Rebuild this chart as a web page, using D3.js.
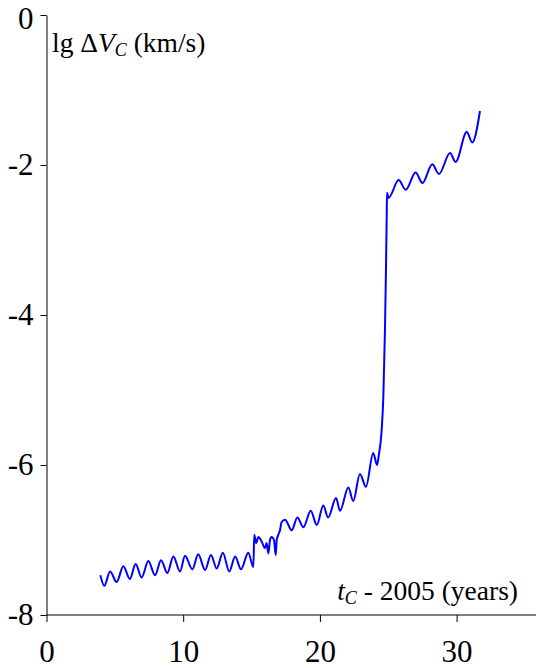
<!DOCTYPE html>
<html>
<head>
<meta charset="utf-8">
<script src="https://cdn.jsdelivr.net/npm/d3@7"></script>
<style>
  html, body { margin: 0; padding: 0; background: #fff; }
  svg { display: block; }
</style>
</head>
<body>
<script>
// Data
const years = [3.94, 4.23, 4.65, 5.13, 5.62, 6.10, 6.52, 6.96, 7.45, 7.94, 8.38, 8.84, 9.28, 9.77,
  10.13, 10.67, 11.10, 11.60, 12.03, 12.45, 12.90, 13.37, 13.80, 14.23, 14.76, 15.13, 15.20, 15.33,
  15.50, 15.74, 15.98, 16.10, 16.23, 16.35, 16.47, 16.64, 16.77, 16.84, 16.96, 17.08, 17.20, 17.45,
  17.94, 18.35, 18.79, 19.33, 19.77, 20.25, 20.60, 21.18, 21.47, 22.08, 22.44, 22.93, 23.37, 23.90,
  24.18, 24.30, 24.52, 24.64, 24.76, 24.84, 24.89, 24.91, 25.02, 25.76, 26.28, 27.00, 27.50, 28.22,
  28.71, 29.52, 29.93, 30.74, 31.15, 31.71];
const lgDV = [-7.47, -7.61, -7.42, -7.56, -7.35, -7.52, -7.32, -7.50, -7.28, -7.47, -7.27, -7.44, -7.22, -7.42,
  -7.21, -7.39, -7.19, -7.40, -7.20, -7.38, -7.17, -7.42, -7.22, -7.39, -7.17, -7.36, -6.93, -7.04,
  -6.96, -7.02, -7.11, -7.04, -7.18, -7.00, -6.96, -7.00, -7.20, -7.00, -6.93, -6.87, -6.76, -6.73,
  -6.87, -6.70, -6.83, -6.61, -6.80, -6.54, -6.70, -6.44, -6.61, -6.30, -6.48, -6.12, -6.29, -5.84,
  -6.00, -5.88, -5.53, -5.09, -4.20, -3.31, -2.64, -2.37, -2.44, -2.20, -2.33, -2.10, -2.24, -1.99,
  -2.12, -1.84, -1.96, -1.56, -1.70, -1.28];
const xTicks = [0, 10, 20, 30];
const yTicks = [-8, -6, -4, -2, 0];

const FONT = "'Liberation Serif', 'Times New Roman', Times, serif";
const W = 536, H = 668;
const svg = d3.select("body").append("svg").attr("width", W).attr("height", H)
  .attr("font-family", FONT);

const x = d3.scaleLinear().domain([0, 36]).range([46.5, 46.5 + 36 * 13.67]);
const y = d3.scaleLinear().domain([-8, 0]).range([615, 15]);

// X axis
const gx = svg.append("g").attr("transform", `translate(0,${y(-8)})`)
  .call(d3.axisBottom(x).tickValues(xTicks).tickFormat(d3.format("d")).tickSizeInner(7).tickSizeOuter(0).tickPadding(18));
gx.attr("font-family", FONT).attr("font-size", 31);
gx.select(".domain").attr("d", `M${x(0)},0H${W}`);
gx.selectAll("text").attr("font-family", FONT).attr("font-size", 31).attr("fill", "#000");
gx.selectAll("line, path").attr("stroke", "#000").attr("stroke-width", 1);

// Y axis
const gy = svg.append("g").attr("transform", `translate(${x(0)},0)`)
  .call(d3.axisLeft(y).tickValues(yTicks).tickFormat(d => d === 0 ? "0" : "-" + Math.abs(d)).tickSizeInner(6).tickSizeOuter(0).tickPadding(7));
gy.attr("font-family", FONT).attr("font-size", 31);
gy.selectAll("text").attr("font-family", FONT).attr("font-size", 31).attr("fill", "#000");
gy.selectAll(".tick text").filter(d => d === 0).attr("y", 4);
gy.selectAll("line, path").attr("stroke", "#000").attr("stroke-width", 1);

// Line
const pts = years.map((t, i) => [t, lgDV[i]]);
svg.append("path")
  .datum(pts)
  .attr("fill", "none")
  .attr("stroke", "#0000ff")
  .attr("stroke-width", 2)
  .attr("stroke-linejoin", "round")
  .attr("d", d3.line().x(d => x(d[0])).y(d => y(d[1])).curve(d3.curveMonotoneX));

// Y label
const yl = svg.append("text").attr("x", 52).attr("y", 52).attr("font-family", FONT).attr("font-size", 27.5).attr("fill", "#000");
yl.append("tspan").text("lg \u0394");
yl.append("tspan").attr("font-style", "italic").text("V");
yl.append("tspan").attr("font-style", "italic").attr("font-size", 18).attr("dy", 4).text("C");
yl.append("tspan").attr("dy", -4).text(" (km/s)");

// X label
const xl = svg.append("text").attr("x", 518).attr("y", 600).attr("font-family", FONT).attr("font-size", 27.5).attr("fill", "#000").attr("text-anchor", "end");
xl.append("tspan").attr("font-style", "italic").text("t");
xl.append("tspan").attr("font-style", "italic").attr("font-size", 18).attr("dy", 4).text("C");
xl.append("tspan").attr("dy", -4).text(" - 2005 (years)");
</script>
</body>
</html>
